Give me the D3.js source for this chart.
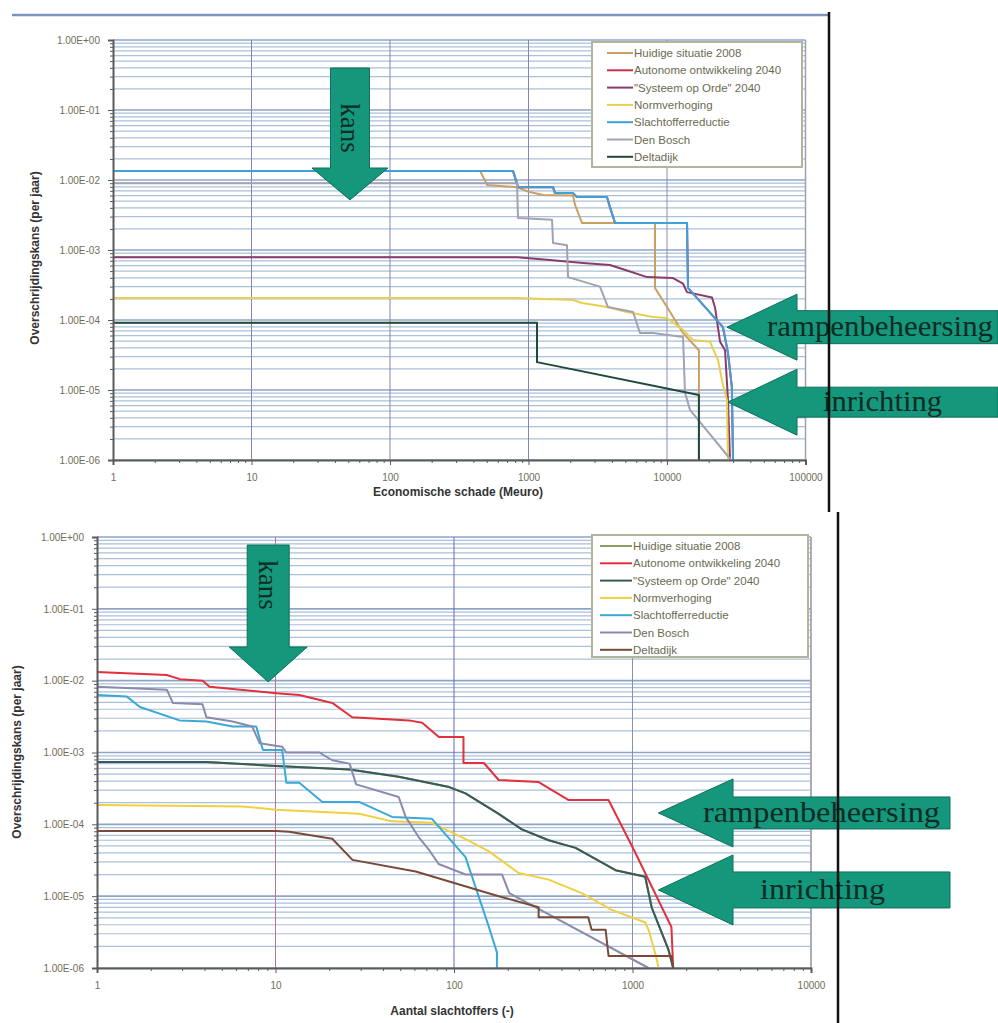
<!DOCTYPE html>
<html>
<head>
<meta charset="utf-8">
<script src="https://cdn.jsdelivr.net/npm/d3@7"></script>
<style>
  body { margin: 0; background: #fff; }
  svg { display: block; }
</style>
</head>
<body>
<div id="wrapper"></div>
<script>
// ---- data ----
const seriesNames = ["Huidige situatie 2008", "Autonome ontwikkeling 2040", "\"Systeem op Orde\" 2040",
                     "Normverhoging", "Slachtofferreductie", "Den Bosch", "Deltadijk"];

const yTickValues = [1, 1e-1, 1e-2, 1e-3, 1e-4, 1e-5, 1e-6];
const topXTicks = [1, 10, 100, 1000, 10000, 100000];
const botXTicks = [1, 10, 100, 1000, 10000];

// top chart: economische schade (Meuro) vs overschrijdingskans
const topHuidige = [[1,1.35e-2],[447,1.35e-2],[503,8.5e-3],[826,7.9e-3],[1000,6.8e-3],[1274,6.1e-3],[2094,6.0e-3],[2168,4.4e-3],[2433,2.43e-3],[8190,2.43e-3],[8190,2.87e-4],[10000,1.53e-4],[13060,6.5e-5],[17000,3.7e-5],[17000,1e-6]];
const topAutonome = [[1,1.35e-2],[773,1.35e-2],[840,7.9e-3],[1503,7.9e-3],[1553,6.5e-3],[2094,6.5e-3],[2239,5.7e-3],[3687,5.7e-3],[3873,4.1e-3],[4217,2.43e-3],[13950,2.43e-3],[14180,2.87e-4],[25350,7.9e-5],[27560,3.4e-5],[29400,1.1e-5],[29970,1e-6]];
const topSysteem = [[1,7.9e-4],[826,7.9e-4],[1429,7.2e-4],[2477,6.5e-4],[3873,6.1e-4],[5140,5.1e-4],[7170,4.1e-4],[11050,3.97e-4],[13060,3.3e-4],[13940,2.5e-4],[21130,2.1e-4],[22230,1.5e-4],[24150,4.9e-5],[26250,3.7e-5],[27560,7.2e-6],[28500,1e-6]];
const topNorm = [[1,2.06e-4],[826,2.06e-4],[2094,1.93e-4],[2433,1.75e-4],[3687,1.53e-4],[5140,1.3e-4],[7925,1.1e-4],[10000,1.07e-4],[13060,7.2e-5],[15400,5.2e-5],[20430,4.9e-5],[23330,2.7e-5],[25350,1.18e-5],[27100,7.2e-6],[27560,1e-6]];
const topSlacht = [[1,1.35e-2],[773,1.35e-2],[840,7.9e-3],[1503,7.9e-3],[1553,6.5e-3],[2094,6.5e-3],[2239,5.7e-3],[3687,5.7e-3],[3873,4.1e-3],[4217,2.43e-3],[13950,2.43e-3],[14180,2.87e-4],[25350,7.9e-5],[27560,3.4e-5],[29400,1.1e-5],[29970,1e-6]];
const topDenBosch = [[1,9e-3],[826,9e-3],[840,2.87e-3],[1479,2.7e-3],[1503,1.26e-3],[1896,1.17e-3],[1930,4.1e-4],[3281,3.0e-4],[3750,1.53e-4],[5685,1.3e-4],[6385,6.5e-5],[7925,6.5e-5],[13060,5.7e-5],[13490,9.1e-6],[14660,5.2e-6],[29000,1e-6]];
const topDelta = [[1,9.1e-5],[1152,9.1e-5],[1152,2.5e-5],[17000,8.5e-6],[17000,1e-6]];

// bottom chart: aantal slachtoffers vs overschrijdingskans
const botHuidige = [[1,7.4e-4],[4.1,7.4e-4],[10.1,6.5e-4],[26,5.8e-4],[49,4.6e-4],[94,3.3e-4],[116,2.7e-4],[178,1.4e-4],[240,8.5e-5],[339,6e-5],[480,4.7e-5],[803,2.3e-5],[1178,1.86e-5],[1280,7e-6],[1590,1.8e-6],[1690,1e-6]];
const botAutonome = [[1,1.32e-2],[2.46,1.2e-2],[2.91,1.05e-2],[3.91,1.0e-2],[4.27,8.2e-3],[10.1,6.7e-3],[13.6,6.3e-3],[20.8,4.9e-3],[26.9,3.1e-3],[55.9,2.8e-3],[66.3,2.6e-3],[82.3,1.64e-3],[113,1.64e-3],[113,7.14e-4],[147,7.14e-4],[178,4.14e-4],[298,3.88e-4],[439,2.18e-4],[734,2.18e-4],[1039,3.99e-5],[1652,3.72e-6],[1690,1e-6]];
const botSysteem = [[1,7.4e-4],[4.1,7.4e-4],[10.1,6.5e-4],[26,5.8e-4],[49,4.6e-4],[94,3.3e-4],[116,2.7e-4],[178,1.4e-4],[240,8.5e-5],[339,6e-5],[480,4.7e-5],[803,2.3e-5],[1178,1.86e-5],[1280,7e-6],[1590,1.8e-6],[1690,1e-6]];
const botNorm = [[1,1.86e-4],[6.55,1.77e-4],[10.1,1.6e-4],[29.4,1.4e-4],[45,1.1e-4],[75,1.05e-4],[111,6.6e-5],[157,4.2e-5],[230,2.1e-5],[339,1.7e-5],[520,1.1e-5],[760,6.5e-6],[1180,4.3e-6],[1230,3.4e-6],[1350,1.5e-6],[1400,1e-6]];
const botSlacht = [[1,6.3e-3],[1.47,6e-3],[1.74,4.3e-3],[2.9,2.8e-3],[4.1,2.7e-3],[5.75,2.3e-3],[7.8,2.3e-3],[8.5,1.08e-3],[10.9,1.08e-3],[11.5,3.8e-4],[13.6,3.8e-4],[18.3,2.05e-4],[29.4,2.05e-4],[45,1.27e-4],[75,1.2e-4],[116,3.5e-5],[157,3.7e-6],[174,1.65e-6],[174,1e-6]];
const botDenBosch = [[1,8.2e-3],[2.46,7.5e-3],[2.66,4.9e-3],[3.9,4.7e-3],[4.1,3.1e-3],[5.75,2.7e-3],[7.4,2.3e-3],[8.15,1.35e-3],[10.9,1.2e-3],[11.5,1e-3],[17.6,1e-3],[20.8,7.8e-4],[26,7e-4],[28.3,3.6e-4],[49,2.4e-4],[53.6,1.27e-4],[63.5,6.6e-5],[72.5,4.4e-5],[82,2.8e-5],[116,2e-5],[186,2e-5],[204,1.1e-5],[1230,1e-6]];
const botDelta = [[1,8.1e-5],[10.1,8.1e-5],[11.9,7.9e-5],[20.8,6.3e-5],[27,3.2e-5],[61,2.2e-5],[178,1e-5],[298,7e-6],[298,5.1e-6],[565,5.1e-6],[590,3.4e-6],[707,3.4e-6],[734,1.47e-6],[1652,1.47e-6],[1690,1e-6]];

const topColors = ["#c9a062", "#c8304e", "#8b3b6b", "#e6d04e", "#3fa1d8", "#a2a2b4", "#1f4a3a"];
const botColors = ["#8aa062", "#e2303c", "#3a5a58", "#f0d040", "#3aa8d8", "#8a8aac", "#7a4a38"];

const W = 998, H = 1023;

const svg = d3.select("#wrapper")
    .append("svg")
    .attr("width", W)
    .attr("height", H);

function fmtExp(v) {
    const e = Math.round(Math.log10(v));
    return "1.00E" + (e >= 0 ? "+" : "-") + String(Math.abs(e)).padStart(2, "0");
}

function drawPanel(cfg) {
    const g = svg.append("g");
    const x = d3.scaleLog().domain(cfg.xDomain).range(cfg.xRange);
    const y = d3.scaleLog().domain([1, 1e-6]).range(cfg.yRange);

    // minor horizontal gridlines
    const minorY = [];
    yTickValues.slice(1).forEach(t => { for (let k = 2; k <= 9; k++) minorY.push(t * k); });
    g.append("g").selectAll("line").data(minorY).enter().append("line")
        .attr("x1", cfg.xRange[0]).attr("x2", cfg.xRange[1])
        .attr("y1", d => y(d)).attr("y2", d => y(d))
        .attr("stroke", "#a9c0d8").attr("stroke-width", 1.2);
    g.append("g").selectAll("line").data(yTickValues).enter().append("line")
        .attr("x1", cfg.xRange[0]).attr("x2", cfg.xRange[1])
        .attr("y1", d => y(d)).attr("y2", d => y(d))
        .attr("stroke", "#8ea6c4").attr("stroke-width", 1.6);

    // vertical gridlines
    g.append("g").selectAll("line").data(cfg.xTicks.slice(1)).enter().append("line")
        .attr("x1", d => x(d)).attr("x2", d => x(d))
        .attr("y1", cfg.yRange[0]).attr("y2", cfg.yRange[1])
        .attr("stroke", (d, i) => cfg.vColors[i]).attr("stroke-width", 1);

    // plot border (right)
    g.append("line")
        .attr("x1", cfg.xRange[1]).attr("x2", cfg.xRange[1])
        .attr("y1", cfg.yRange[0]).attr("y2", cfg.yRange[1])
        .attr("stroke", "#a0a0b0").attr("stroke-width", 1.5);

    // curves
    const line = d3.line().x(d => x(d[0])).y(d => y(d[1]));
    g.append("g").selectAll("path").data(cfg.series).enter().append("path")
        .attr("d", d => line(d))
        .attr("fill", "none")
        .attr("stroke", (d, i) => cfg.colors[i])
        .attr("stroke-width", 2)
        .attr("stroke-linejoin", "round");

    // axes
    const yAxisGen = d3.axisLeft(y).tickValues(yTickValues).tickFormat(fmtExp).tickSize(5).tickPadding(8);
    const yAxis = g.append("g")
        .attr("transform", `translate(${cfg.xRange[0]},0)`)
        .call(yAxisGen);
    const minorTickY = d3.axisLeft(y).tickValues(minorY).tickFormat("").tickSize(3);
    g.append("g").attr("transform", `translate(${cfg.xRange[0]},0)`).call(minorTickY)
        .select(".domain").remove();

    const xAxisGen = d3.axisBottom(x).tickValues(cfg.xTicks).tickFormat(d3.format("d")).tickSize(5).tickPadding(9);
    const xAxis = g.append("g")
        .attr("transform", `translate(0,${cfg.yRange[1]})`)
        .call(xAxisGen);
    const minorX = [];
    cfg.xTicks.slice(0, -1).forEach(t => { for (let k = 2; k <= 9; k++) minorX.push(t * k); });
    g.append("g").attr("transform", `translate(0,${cfg.yRange[1]})`)
        .call(d3.axisBottom(x).tickValues(minorX).tickFormat("").tickSize(3))
        .select(".domain").remove();

    [yAxis, xAxis].forEach(a => {
        a.select(".domain").attr("stroke", "#5a5a5a").attr("stroke-width", 2);
        a.selectAll(".tick text")
            .attr("fill", "#6e6e58")
            .style("font-family", "Liberation Sans, Arial, sans-serif")
            .style("font-size", "10px");
    });
    g.selectAll(".tick line").attr("stroke", "#5a5a5a");

    g.append("text")
        .attr("x", cfg.xLabelPos[0]).attr("y", cfg.xLabelPos[1])
        .text(cfg.xLabel)
        .attr("fill", "#333")
        .attr("font-family", "Liberation Sans, Arial, sans-serif")
        .attr("font-size", "12px")
        .attr("font-weight", "bold")
        .attr("text-anchor", "middle");

    g.append("text")
        .attr("transform", `translate(${cfg.yLabelPos[0]},${cfg.yLabelPos[1]}) rotate(-90)`)
        .text("Overschrijdingskans (per jaar)")
        .attr("fill", "#333")
        .attr("font-family", "Liberation Sans, Arial, sans-serif")
        .attr("font-size", "12px")
        .attr("font-weight", "bold")
        .attr("text-anchor", "middle");

    // legend
    const lg = cfg.legend;
    const legend = g.append("g");
    legend.append("rect")
        .attr("x", lg.x).attr("y", lg.y).attr("width", lg.w).attr("height", lg.h)
        .attr("fill", "#fff").attr("stroke", "#b4b49a").attr("stroke-width", 2);
    const rows = legend.selectAll("g.row").data(seriesNames).enter().append("g")
        .attr("transform", (d, i) => `translate(0,${lg.y + 11 + i * 17.3})`);
    rows.append("line")
        .attr("x1", lg.x + lg.lx1).attr("x2", lg.x + lg.lx2)
        .attr("stroke", (d, i) => cfg.colors[i]).attr("stroke-width", 2);
    rows.append("text")
        .attr("x", lg.x + lg.lx2 + 1).attr("y", 4)
        .text(d => d)
        .attr("fill", "#6a6a52")
        .attr("font-family", "Liberation Sans, Arial, sans-serif")
        .attr("font-size", "11.5px");

    return { x, y };
}

const topPanel = drawPanel({
    xDomain: [1, 100000], xRange: [113, 805.5], yRange: [40, 460],
    xTicks: topXTicks,
    vColors: ["#8088b0", "#8088b0", "#8088b0", "#8a90b0", "#a0a0b0"],
    series: [topHuidige, topAutonome, topSysteem, topNorm, topSlacht, topDenBosch, topDelta],
    colors: topColors,
    xLabel: "Economische schade (Meuro)", xLabelPos: [458, 496],
    yLabelPos: [39, 258],
    legend: { x: 592, y: 42, w: 210, h: 125, lx1: 15, lx2: 41 }
});

const botPanel = drawPanel({
    xDomain: [1, 10000], xRange: [97, 811], yRange: [537, 968],
    xTicks: botXTicks,
    vColors: ["#c07088", "#6a6ab8", "#8a90b0", "#a0a0b0"],
    series: [botHuidige, botAutonome, botSysteem, botNorm, botSlacht, botDenBosch, botDelta],
    colors: botColors,
    xLabel: "Aantal slachtoffers (-)", xLabelPos: [452, 1015],
    yLabelPos: [21, 752],
    legend: { x: 592, y: 535, w: 216, h: 122, lx1: 8, lx2: 40 }
});

// ---- annotation arrows ----
const arrowFill = "#15977c", arrowStroke = "#0f6e5a", arrowText = "#0b2c24";

function downArrow(cx, tipY, baseY, topY, headHalf, shaftHalf, label, textY) {
    const pts = [[cx - shaftHalf, topY], [cx + shaftHalf, topY], [cx + shaftHalf, baseY], [cx + headHalf, baseY],
                 [cx, tipY], [cx - headHalf, baseY], [cx - shaftHalf, baseY]];
    svg.append("path").attr("d", d3.line()(pts) + "Z")
        .attr("fill", arrowFill).attr("stroke", arrowStroke).attr("stroke-width", 1);
    svg.append("text")
        .attr("transform", `translate(${cx - 9},${textY}) rotate(90)`)
        .text(label)
        .attr("fill", arrowText)
        .attr("font-family", "Liberation Serif, Times New Roman, serif")
        .attr("font-size", "27px")
        .attr("text-anchor", "middle");
}

function leftArrow(tipX, cy, baseX, endX, headHalf, shaftHalf, label, textX, textLen) {
    const pts = [[tipX, cy], [baseX, cy - headHalf], [baseX, cy - shaftHalf], [endX, cy - shaftHalf],
                 [endX, cy + shaftHalf], [baseX, cy + shaftHalf], [baseX, cy + headHalf]];
    svg.append("path").attr("d", d3.line()(pts) + "Z")
        .attr("fill", arrowFill).attr("stroke", arrowStroke).attr("stroke-width", 1);
    svg.append("text")
        .attr("x", textX).attr("y", cy + 9)
        .text(label)
        .attr("fill", arrowText)
        .attr("font-family", "Liberation Serif, Times New Roman, serif")
        .attr("font-size", "29px")
        .attr("textLength", textLen)
        .attr("lengthAdjust", "spacingAndGlyphs");
}

// top chart arrows, tips anchored in data space
downArrow(topPanel.x(51.4), topPanel.y(5.2e-3), 168, 68, 38, 19.5, "kans", 128);
leftArrow(topPanel.x(27100), topPanel.y(7.9e-5), 797, 998, 33, 16.5, "rampenbeheersing", 767, 226);
leftArrow(topPanel.x(27560), topPanel.y(6.7e-6), 797, 998, 33, 15, "inrichting", 823, 119);

// bottom chart arrows
downArrow(botPanel.x(9.1), botPanel.y(9.6e-3), 647, 545, 39, 21, "kans", 585);
leftArrow(botPanel.x(1397), botPanel.y(1.44e-4), 733, 950, 34, 16, "rampenbeheersing", 703, 237);
leftArrow(botPanel.x(1397), botPanel.y(1.22e-5), 733, 950, 35, 18, "inrichting", 760, 125);

// page rules from the scanned slide
svg.append("line").attr("x1", 12).attr("x2", 829).attr("y1", 15).attr("y2", 15)
    .attr("stroke", "#7d93c0").attr("stroke-width", 2.5);
svg.append("line").attr("x1", 829).attr("x2", 829).attr("y1", 12).attr("y2", 512)
    .attr("stroke", "#111").attr("stroke-width", 2.5);
svg.append("line").attr("x1", 838).attr("x2", 838).attr("y1", 512).attr("y2", 1023)
    .attr("stroke", "#111").attr("stroke-width", 2.5);
</script>
</body>
</html>
